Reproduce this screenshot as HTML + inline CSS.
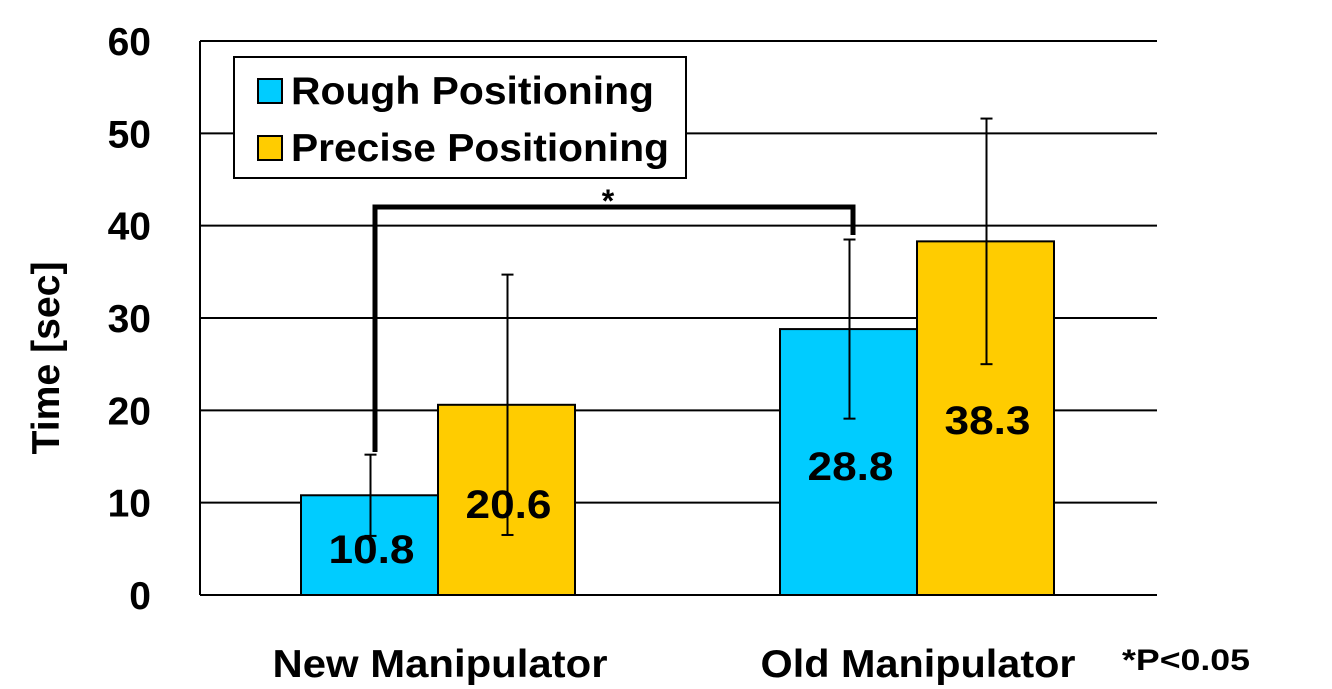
<!DOCTYPE html>
<html><head><meta charset="utf-8"><style>
body{margin:0;background:#fff}
svg{display:block;font-family:"Liberation Sans",Arial,sans-serif}
</style></head><body>
<svg id="chart" width="1332" height="689">
</svg>
<script>
const categories=["New Manipulator","Old Manipulator"];
const seriesNames=["Rough Positioning","Precise Positioning"];
const roughValues=[10.8,28.8];
const preciseValues=[20.6,38.3];
const roughErr=[4.4,9.7];
const preciseErr=[14.1,13.3];
const yTicks=[0,10,20,30,40,50,60];
const colors=["#00CCFF","#FFCC00"];
const NS="http://www.w3.org/2000/svg";
const svg=document.getElementById('chart');
const y0=595,yTop=41,yMax=60;
const y=v=>y0-(v/yMax)*(y0-yTop);
const groupX=[301,780],barW=137;
function mk(tag,attrs,parent,text){const e=document.createElementNS(NS,tag);for(const k in attrs)e.setAttribute(k,attrs[k]);if(text!==undefined)e.textContent=text;(parent||svg).appendChild(e);return e;}
yTicks.forEach(t=>{
  const l=mk('line',{x1:200,x2:1157,y1:y(t),y2:y(t),stroke:'#000','stroke-width':2});
  
  
  const tx=mk('text',{x:151,y:y(t)+14,'font-size':39,'font-weight':'bold','text-anchor':'end'},svg,String(t));
  
  
});
const ax=mk('line',{x1:200,x2:200,y1:41,y2:595,stroke:'#000','stroke-width':2});


const yt=mk('text',{x:0,y:0,'font-size':39,'font-weight':'bold','text-anchor':'middle',textLength:193,lengthAdjust:'spacingAndGlyphs',transform:'translate(59,358) rotate(-90)'},svg,'Time [sec]');


const series=[roughValues,preciseValues],errs=[roughErr,preciseErr];
const labelY=[[563,518],[480,434]];
const catW=[335,315],catCx=[440,918];
categories.forEach((c,i)=>{
  series.forEach((vals,s)=>{
    const x=groupX[i]+s*barW,v=vals[i];
    const r=mk('rect',{x:x,y:y(v),width:barW,height:y0-y(v),fill:colors[s],stroke:'#000','stroke-width':2});
    
    
    const cx=x+barW/2+1,e=errs[s][i];
    const eg=mk('g',{stroke:'#000','stroke-width':2});
    
    
    mk('line',{x1:cx,x2:cx,y1:y(v+e),y2:y(v-e)},eg);
    mk('line',{x1:cx-6,x2:cx+6,y1:y(v+e),y2:y(v+e)},eg);
    mk('line',{x1:cx-6,x2:cx+6,y1:y(v-e),y2:y(v-e)},eg);
    const lt=mk('text',{x:x+barW/2+2,y:labelY[i][s],'font-size':40,'font-weight':'bold','text-anchor':'middle',textLength:86,lengthAdjust:'spacingAndGlyphs'},svg,String(v));
    
    
  });
  const ct=mk('text',{x:catCx[i],y:677,'font-size':39,'font-weight':'bold','text-anchor':'middle',textLength:catW[i],lengthAdjust:'spacingAndGlyphs'},svg,c);
  
  
});
const br=mk('polyline',{points:'375,452 375,207 853,207 853,235',fill:'none',stroke:'#000','stroke-width':5});


const st=mk('text',{x:608,y:212,'font-size':32,'font-weight':'bold','text-anchor':'middle'},svg,'*');


const pn=mk('text',{x:1122,y:670,'font-size':30,'font-weight':'bold',textLength:128,lengthAdjust:'spacingAndGlyphs'},svg,'*P<0.05');


const lg=mk('g',{});


mk('rect',{x:234,y:57,width:452,height:121,fill:'#fff',stroke:'#000','stroke-width':2},lg);
const legW=[363,378];
seriesNames.forEach((n,s)=>{
  const e=mk('g',{},lg);
  
  
  mk('rect',{x:258,y:79+s*57,width:24,height:24,fill:colors[s],stroke:'#000','stroke-width':2},e);
  mk('text',{x:291,y:104+s*57,'font-size':39,'font-weight':'bold',textLength:legW[s],lengthAdjust:'spacingAndGlyphs'},e,n);
});
</script>
</body></html>
